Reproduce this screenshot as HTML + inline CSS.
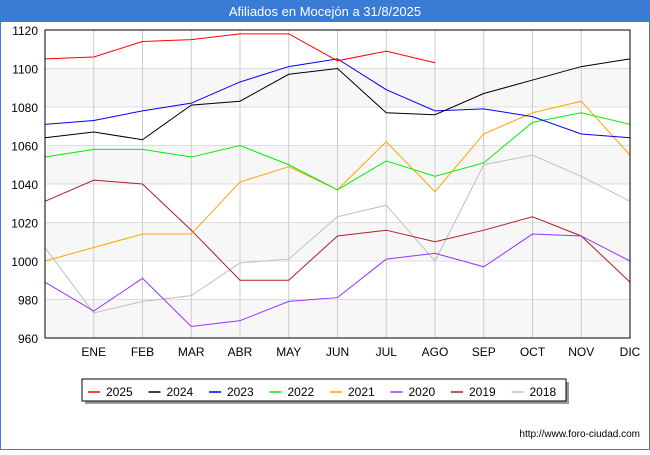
<!DOCTYPE html>
<html><head><meta charset="utf-8"><style>
body{margin:0;width:650px;height:450px;background:#fff;font-family:"Liberation Sans",sans-serif;overflow:hidden}
</style></head><body>
<svg width="650" height="450" xmlns="http://www.w3.org/2000/svg" font-family="Liberation Sans, sans-serif">
<rect x="0" y="0" width="650" height="450" fill="#fff" stroke="#3a7bd5" stroke-width="2"/>
<rect x="0" y="0" width="650" height="22" fill="#3a7bd5"/>
<text x="325" y="16" text-anchor="middle" fill="#fff" font-size="13">Afiliados en Mocejón a 31/8/2025</text>
<g id="grid"></g>
<g id="series"></g>
<rect x="45" y="30" width="585" height="308" fill="none" stroke="#000"/>
<g id="axes" font-size="12"></g>
<g>
<rect x="85" y="382" width="484" height="22" fill="#999"/>
<rect x="82" y="379" width="484" height="22" fill="#fff" stroke="#000"/>
<g id="legend"></g>
</g>
<text x="640" y="437" text-anchor="end" font-size="10" fill="#000">http://www.foro-ciudad.com</text>
</svg>
<script>
const months=["","ENE","FEB","MAR","ABR","MAY","JUN","JUL","AGO","SEP","OCT","NOV","DIC"];
const yTicks=[960,980,1000,1020,1040,1060,1080,1100,1120];
const names=["2025","2024","2023","2022","2021","2020","2019","2018"];
const colors=["#ff0000","#000000","#0000ff","#00ee00","#ffa500","#9933ff","#aa2222","#c0c0c0"];
const s2025=[1105,1106,1114,1115,1118,1118,1104,1109,1103];
const s2024=[1064,1067,1063,1081,1083,1097,1100,1077,1076,1087,1094,1101,1105];
const s2023=[1071,1073,1078,1082,1093,1101,1105,1089,1078,1079,1075,1066,1064];
const s2022=[1054,1058,1058,1054,1060,1050,1037,1052,1044,1051,1072,1077,1071];
const s2021=[1000,1007,1014,1014,1041,1049,1037,1062,1036,1066,1077,1083,1055];
const s2020=[989,974,991,966,969,979,981,1001,1004,997,1014,1013,1000];
const s2019=[1031,1042,1040,1016,990,990,1013,1016,1010,1016,1023,1013,989];
const s2018=[1007,973,979,982,999,1001,1023,1029,1000,1050,1055,1044,1031];
const data=[s2025,s2024,s2023,s2022,s2021,s2020,s2019,s2018];
const NS="http://www.w3.org/2000/svg";
const X=i=>45+i*585/12, Y=v=>338-(v-960)*308/160;
function mk(t,a,p){const e=document.createElementNS(NS,t);for(const k in a)e.setAttribute(k,a[k]);p.appendChild(e);return e;}
const grid=document.getElementById('grid'),axes=document.getElementById('axes');
for(let i=0;i<yTicks.length-1;i++){if(i%2==0){const b=mk('rect',{x:45,y:Y(yTicks[i+1]),width:585,height:Y(yTicks[i])-Y(yTicks[i+1]),fill:'#f7f7f7'},grid);

}}
yTicks.forEach(v=>{const l=mk('line',{x1:45,x2:630,y1:Y(v),y2:Y(v),stroke:'#ddd'},grid);


const t=mk('text',{x:38,y:Y(v)+5,'text-anchor':'end'},axes);t.textContent=v;

});
months.forEach((m,i)=>{if(i>0){const l=mk('line',{x1:X(i),x2:X(i),y1:30,y2:338,stroke:'#ccc'},grid);

}
const t=mk('text',{x:X(i),y:356,'text-anchor':'middle'},axes);t.textContent=m;

});
const sg=document.getElementById('series');
for(let k=data.length-1;k>=0;k--){const p=mk('polyline',{points:data[k].map((v,i)=>X(i)+','+Y(v)).join(' '),fill:'none',stroke:colors[k],'stroke-width':1},sg);

}
const lg=document.getElementById('legend');
names.forEach((n,i)=>{const x=88+i*60.5;const g=mk('g',{},lg);


mk('line',{x1:x,x2:x+12,y1:392,y2:392,stroke:colors[i],'stroke-width':1.5},g);
const t=mk('text',{x:x+18,y:396,'font-size':12},g);t.textContent=n;});
</script>
</body></html>
